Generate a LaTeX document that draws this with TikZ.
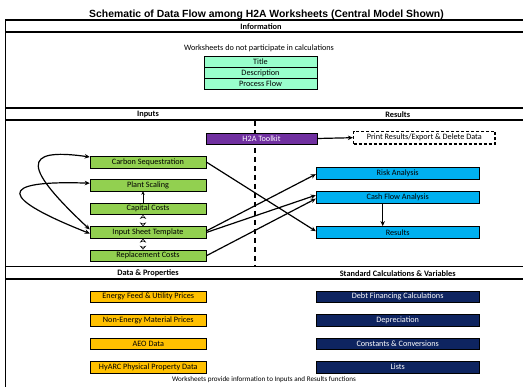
\documentclass[tikz,border=0pt]{standalone}
\usepackage{fontspec}
\setmainfont{Carlito}
\newfontfamily\arialfont{Liberation Sans}
\usetikzlibrary{arrows.meta,shadows,calc}
\definecolor{cgreen}{HTML}{92D050}
\definecolor{cmint}{HTML}{99FFCC}
\definecolor{cpurple}{HTML}{7030A0}
\definecolor{cblue}{HTML}{00B0F0}
\definecolor{cgold}{HTML}{FFC000}
\definecolor{cnavy}{HTML}{0E2460}
\begin{document}
\begin{tikzpicture}[x=1pt,y=-1pt,
  txt/.style={font=\fontsize{8.2}{9}\selectfont, inner sep=0pt},
  hdr/.style={font=\bfseries\fontsize{8.3}{9}\selectfont, inner sep=0pt},
  wbox/.style={draw=black, line width=0.5pt, minimum height=11.7pt, inner sep=0pt,
     font=\fontsize{8.2}{9}\selectfont,
     drop shadow={shadow xshift=0.8pt, shadow yshift=-0.8pt, fill=black, opacity=0.85}},
  gbox/.style={wbox, fill=cgreen, minimum width=116pt},
  obox/.style={wbox, fill=cgold, minimum width=116.5pt},
  bbox/.style={wbox, fill=cblue, minimum width=163.3pt},
  nbox/.style={wbox, fill=cnavy, text=white, minimum width=163.3pt},
  ibox/.style={draw=black, line width=0.6pt, fill=cmint, minimum width=113pt, minimum height=11pt, inner sep=0pt, font=\fontsize{8.2}{9}\selectfont},
  frameline/.style={line width=1.1pt},
  flow/.style={line width=1.2pt, -{Stealth[length=5pt,width=4.5pt]}},
  dbl/.style={draw, line width=0.5pt, double=white, double distance=1.6pt, {Stealth[length=4pt,width=6.5pt,open,fill=white]}-{Stealth[length=4pt,width=6.5pt,open,fill=white]}},
  loopar/.style={line width=1.2pt, {Stealth[length=5pt,width=4.5pt]}-{Stealth[length=5pt,width=4.5pt]}}
]
\useasboundingbox (0,0) rectangle (523,387);
\fill[white] (0,0) rectangle (523,387);

% title
\node[inner sep=0pt, font=\arialfont\bfseries\fontsize{10.4}{11}\selectfont] (title) at (266.5,14.5) {Schematic of Data Flow among H2A Worksheets (Central Model Shown)};

% frame
\draw[frameline] (530,20) -- (5.5,20) -- (5.5,395);
\draw[frameline] (5.5,32) -- (530,32);
\draw[frameline] (5.5,108) -- (530,108);
\draw[frameline] (5.5,120) -- (530,120);
\draw[frameline] (5.5,266.7) -- (530,266.7);
\draw[frameline] (5.5,279) -- (530,279);

% headers
\node[hdr] (hinfo) at (261,26.5) {Information};
\node[hdr] (hin) at (148,114.5) {Inputs};
\node[hdr] (hres) at (397.7,114.5) {Results};
\node[hdr] (hdata) at (148,273.3) {Data \& Properties};
\node[hdr] (hstd) at (397.7,273.3) {Standard Calculations \& Variables};

% information
\node[txt] (wsnote) at (259,48.5) {Worksheets do not participate in calculations};
\node[ibox] (ttl) at (260.5,62) {Title};
\node[ibox] (desc) at (260.5,73) {Description};
\node[ibox] (pflow) at (260.5,84) {Process Flow};

% dashed divider
\coordinate (dtop) at (255,121);
\coordinate (dbot) at (255,266);
\draw[line width=1.4pt, dash pattern=on 5pt off 4pt] (dtop) -- (dbot);

% toolkit and print
\node[wbox, fill=cpurple, text=white, minimum width=111pt, minimum height=11pt] (tool) at (261.5,138.5) {H2A Toolkit};
\node[draw=black, line width=1.3pt, dash pattern=on 3pt off 2pt, fill=white, minimum width=141.5pt, minimum height=12.5pt, inner sep=0pt, font=\fontsize{8.2}{9}\selectfont] (print) at (424.3,137.7) {Print Results/Export \& Delete Data};

% inputs
\node[gbox] (carbon) at (148,162) {Carbon Sequestration};
\node[gbox] (plant) at (148,185.2) {Plant Scaling};
\node[gbox] (capital) at (148,208.8) {Capital Costs};
\node[gbox] (input) at (148,232.5) {Input Sheet Template};
\node[gbox] (repl) at (148,255.8) {Replacement Costs};

% results
\node[bbox] (risk) at (397.7,173.2) {Risk Analysis};
\node[bbox] (cash) at (397.7,197.2) {Cash Flow Analysis};
\node[bbox] (results) at (397.7,232.2) {Results};

% data & properties
\node[obox] (energy) at (148.3,296.7) {Energy Feed \& Utility Prices};
\node[obox] (nonen) at (148.3,320) {Non-Energy Material Prices};
\node[obox] (aeo) at (148.3,343.8) {AEO Data};
\node[obox] (hyarc) at (148.3,367.2) {HyARC Physical Property Data};

% standard calcs
\node[nbox] (debt) at (397.7,296.7) {Debt Financing Calculations};
\node[nbox] (depr) at (397.7,320) {Depreciation};
\node[nbox] (const) at (397.7,343.8) {Constants \& Conversions};
\node[nbox] (lists) at (397.7,367.2) {Lists};

\node[inner sep=0pt, font=\fontsize{7.1}{8}\selectfont] (bnote) at (264,379.5) {Worksheets provide information to Inputs and Results functions};

% connectors
\draw[flow] (tool.east) -- (print.west);
\draw[flow] (carbon.east) -- ([yshift=1pt]results.west);
\draw[flow] ([yshift=1.5pt]input.east) -- ([yshift=-1pt]risk.west);
\draw[flow] ([yshift=0pt]input.east) -- ([yshift=2pt]cash.west);
\draw[flow] (repl.east) -- ([yshift=-1.5pt]cash.west);
\draw[flow] ([xshift=-15pt]cash.south) -- ([xshift=-15pt]results.north);

\draw[line width=0.8pt, -{Stealth[length=3.5pt,width=3.5pt]}] ([xshift=-5pt]capital.north) -- ([xshift=-5pt]plant.south);
\draw[dbl] ([xshift=-5pt]capital.south) -- ([xshift=-5pt]input.north);
\draw[dbl] ([xshift=-5pt]input.south) -- ([xshift=-5pt]repl.north);

\draw[loopar] ([yshift=5pt]carbon.west) .. controls (20,147) and (24,168) .. ([yshift=3pt]input.west);
\draw[loopar] ([yshift=2pt]plant.west) .. controls (-5,180) and (0,198) .. ([yshift=-1pt]input.west);
\end{tikzpicture}
\end{document}
